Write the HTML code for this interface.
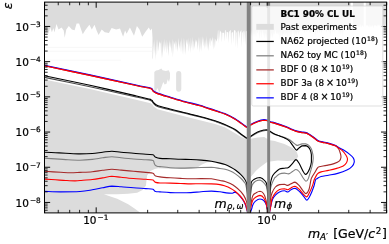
<!DOCTYPE html><html><head><meta charset="utf-8"><title>BC1 90% CL UL</title>
<style>html,body{margin:0;padding:0;background:#fff}svg{display:block;will-change:transform}text{font-family:"DejaVu Sans","Liberation Sans",sans-serif;fill:#000;stroke:#000;stroke-width:0.22px}.i{font-style:oblique}</style></head><body>
<svg width="389" height="244" viewBox="0 0 389 244">
<rect width="389" height="244" fill="#fff"/>
<defs><clipPath id="ax"><rect x="44.5" y="2.1" width="342.1" height="210.8"/></clipPath></defs>
<g clip-path="url(#ax)">
<path d="M38.0,215.0 L38.0,78.1 L44.5,79.5 L90.0,89.1 L135.0,99.4 L150.6,103.2 L152.3,104.5 L153.6,106.4 L157.5,109.3 L185.0,116.6 L200.0,120.3 L215.0,124.0 L224.8,127.2 L234.7,133.0 L241.2,137.0 L247.0,139.5 L250.7,138.7 L257.6,137.5 L264.2,137.0 L267.1,138.7 L269.9,140.3 L275.0,141.1 L276.2,141.5 L284.4,143.9 L292.6,148.0 L296.7,152.1 L298.3,156.2 L295.9,160.3 L287.7,161.1 L277.8,160.5 L270.1,161.4 L266.8,162.2 L260.0,167.2 L256.0,170.8 L252.9,174.4 L250.8,177.0 L248.8,183.0 L246.4,182.3 L244.2,178.5 L240.6,174.4 L235.4,170.0 L230.3,167.0 L225.1,164.6 L221.7,164.2 L211.4,162.0 L207.0,162.2 L201.0,165.0 L196.5,168.2 L190.8,168.8 L175.0,168.9 L164.3,168.4 L158.0,168.2 L154.8,168.9 L150.4,171.1 L147.1,175.5 L146.4,181.1 L146.0,185.5 L142.6,189.9 L137.1,192.8 L128.2,193.7 L117.2,194.3 L103.9,194.3 L110.5,196.6 L117.2,198.8 L128.2,204.3 L134.9,208.8 L139.3,212.1 L141.0,215.0Z" fill="#dcdcdc"/>
<path d="M38.0,0.0 L38.0,28.0 L44.5,28.5 L48.2,33.7 L50.3,27.5 L51.9,32.2 L53.4,28.1 L54.4,32.6 L56.5,24.0 L58.5,29.5 L61.6,27.5 L63.7,30.6 L64.7,37.8 L66.3,29.5 L68.8,26.0 L71.9,29.5 L74.6,30.2 L76.6,23.4 L79.1,23.4 L81.1,29.5 L82.8,34.3 L85.2,30.2 L89.4,24.8 L91.8,29.5 L94.5,24.8 L96.6,30.6 L98.6,35.1 L101.7,29.5 L104.8,32.2 L108.9,33.0 L111.6,28.1 L116.1,29.5 L120.0,28.5 L123.1,36.7 L125.1,30.6 L126.6,33.7 L129.9,27.5 L134.0,35.7 L136.9,26.0 L139.5,29.5 L142.2,36.7 L145.7,31.6 L148.8,27.5 L150.4,30.6 L151.9,28.5 L152.5,37.8 L152.5,59.4 L153.0,57.8 L153.6,41.6 L154.2,54.0 L154.8,39.1 L155.6,60.4 L156.3,39.1 L156.9,55.6 L157.8,39.2 L158.4,51.7 L159.4,40.9 L160.1,43.7 L160.6,42.0 L161.3,58.7 L161.8,39.7 L162.7,58.1 L163.5,40.9 L164.2,52.5 L164.8,38.5 L165.4,49.8 L166.1,39.4 L166.9,53.8 L167.5,41.3 L168.4,56.5 L169.2,40.1 L170.1,48.3 L170.7,41.8 L171.3,53.7 L172.2,38.4 L172.9,57.5 L173.8,40.8 L174.5,44.9 L175.2,40.4 L176.0,50.5 L176.7,40.9 L177.7,52.0 L178.5,37.7 L179.3,48.9 L180.3,40.6 L181.0,52.8 L181.8,37.3 L182.5,55.0 L183.1,37.4 L184.0,55.1 L184.6,38.6 L185.5,55.1 L186.3,39.1 L187.2,44.9 L188.1,37.9 L188.8,52.0 L189.7,40.6 L190.3,53.6 L190.9,37.6 L191.7,48.4 L192.3,36.6 L193.0,51.2 L193.8,40.3 L194.7,49.1 L195.5,39.1 L196.0,42.7 L196.9,39.8 L197.8,50.3 L198.5,36.6 L199.3,52.9 L199.8,36.9 L200.4,50.5 L201.0,36.0 L201.6,52.3 L202.3,36.0 L203.2,46.6 L203.8,36.9 L204.5,49.6 L205.0,39.2 L206.0,48.2 L206.8,36.0 L207.3,49.4 L208.0,38.9 L208.6,51.5 L209.5,37.6 L210.1,46.7 L210.7,37.5 L211.6,42.1 L212.5,36.4 L213.1,50.0 L214.0,37.3 L214.9,48.4 L215.5,38.4 L216.5,41.8 L217.4,38.3 L217.8,30.3 L218.2,43.7 L218.7,30.7 L219.1,29.6 L219.6,40.6 L220.0,30.4 L221.4,32.8 L221.9,42.8 L222.3,32.8 L224.1,32.8 L224.5,41.7 L225.0,30.3 L225.7,30.2 L226.2,39.7 L226.6,31.7 L228.3,32.4 L228.7,43.2 L229.2,31.8 L230.7,29.8 L231.1,45.6 L231.6,32.7 L233.1,32.1 L233.5,43.2 L234.0,30.1 L235.5,30.7 L235.9,47.4 L236.4,32.9 L237.3,30.9 L237.8,49.3 L238.2,32.0 L238.9,29.9 L239.3,39.0 L239.8,32.7 L241.3,30.0 L241.8,47.7 L242.2,32.9 L243.5,30.7 L244.0,44.1 L244.4,30.0 L244.9,32.9 L245.3,45.4 L245.8,31.3 L247.5,31.0 L247.9,48.3 L248.4,32.4 L249.1,30.4 L249.5,40.8 L250.0,30.3 L250.0,36.1 L250.9,29.5 L252.0,36.8 L252.9,31.3 L254.0,37.4 L255.1,31.0 L256.0,38.2 L256.7,30.8 L257.4,34.0 L258.4,29.7 L259.3,39.8 L260.3,30.3 L261.2,38.4 L262.2,29.4 L263.2,36.0 L263.9,32.1 L264.8,38.5 L265.9,32.6 L266.8,38.9 L267.7,31.0 L268.7,37.6 L269.6,30.9 L270.7,39.6 L271.8,32.8 L272.6,38.5 L273.7,32.4 L274.4,35.0 L275.3,29.3 L276.1,34.6 L277.1,32.1 L278.2,35.2 L279.2,31.6 L279.9,41.1 L281.0,29.9 L282.2,37.2 L283.1,33.0 L284.2,35.3 L285.0,31.1 L285.8,35.6 L286.6,31.9 L287.3,38.4 L288.1,29.1 L289.0,39.0 L289.9,29.3 L291.0,40.3 L292.2,29.4 L293.0,34.3 L294.0,30.1 L294.7,37.4 L295.8,32.3 L296.6,35.2 L297.7,31.3 L298.7,34.7 L299.4,31.8 L300.0,31.4 L301.1,28.9 L302.2,31.5 L303.3,27.2 L304.4,33.7 L305.2,28.7 L306.3,32.6 L307.0,28.6 L307.8,31.7 L308.5,27.2 L309.2,32.9 L310.0,29.3 L310.8,34.0 L311.6,28.0 L312.2,32.5 L312.8,29.2 L313.8,32.1 L314.6,29.8 L315.3,35.9 L316.2,28.5 L317.3,33.4 L318.2,29.1 L319.3,33.1 L320.4,29.1 L321.4,33.4 L322.2,27.2 L322.9,31.4 L323.9,27.8 L324.7,31.5 L325.7,29.6 L326.7,32.7 L327.5,27.9 L328.4,31.9 L329.2,27.8 L330.4,36.8 L331.3,27.7 L332.5,32.9 L333.3,27.0 L334.1,33.8 L335.0,27.6 L335.9,31.0 L336.7,27.3 L337.6,31.3 L338.2,27.9 L339.0,34.5 L339.9,29.3 L340.9,35.3 L342.0,28.2 L342.8,36.9 L343.5,29.2 L344.5,31.3 L345.0,28.6 L346.0,25.1 L347.0,26.0 L348.0,24.8 L349.0,28.3 L350.1,24.9 L351.2,27.9 L352.2,24.3 L352.9,26.0 L353.7,24.2 L354.8,27.5 L355.7,24.9 L356.7,27.2 L357.4,25.2 L358.4,27.3 L359.3,25.0 L360.0,28.1 L360.8,24.1 L361.5,28.1 L362.3,25.1 L363.4,27.2 L364.3,24.7 L365.3,28.2 L366.2,25.0 L366.9,26.0 L367.7,25.1 L368.5,27.5 L369.1,24.1 L369.9,27.9 L370.9,25.0 L371.7,27.3 L372.5,24.7 L373.2,28.6 L374.0,25.5 L375.1,25.6 L376.0,25.2 L377.1,27.1 L377.9,24.3 L379.1,26.2 L380.0,24.2 L380.9,28.8 L381.6,25.2 L382.5,28.6 L383.5,24.3 L384.6,27.2 L385.3,24.0 L386.2,27.1 L387.0,24.2 L387.8,26.6 L390.0,25.0 L390.0,0.0Z" fill="#dcdcdc"/>
<path d="M154.3,91.5 L154.3,72.0 L156.0,70.6 L158.5,70.0 L161.3,68.4 L162.6,70.2 L165.8,70.9 L168.7,70.3 L170.0,72.9 L170.0,78.0 L169.0,81.9 L167.7,79.3 L166.5,83.8 L164.6,84.4 L163.3,81.9 L161.3,87.6 L160.0,90.8 L159.4,93.0 L157.5,87.9 L155.6,91.7Z" fill="#e1e1e1"/>
<path d="M176.1,74 Q176.1,71 178.7,71 Q181.3,71 181.3,74 V88.7 Q181.3,91.7 178.7,91.7 Q176.1,91.7 176.1,88.7Z" fill="#e1e1e1"/>
<path d="M350.8,0h2.1v60h-2.1z" fill="#fff"/>
<path d="M363.7,0h2.1v60h-2.1z" fill="#fff"/>
<path d="M44.5,47.4 H152.5" stroke="#f2f2f2" stroke-width="0.6" fill="none"/>
<path d="M44.5,51.2 H152.5" stroke="#f2f2f2" stroke-width="0.6" fill="none"/>
<path d="M44.5,60.2 H121.0" stroke="#f5f5f5" stroke-width="0.6" fill="none"/>
<path d="M38.00,76.00 C39.08,76.23 38.00,76.00 44.50,77.40 C53.17,79.20 74.92,83.55 90.00,86.77 C105.08,89.99 124.90,94.45 135.00,96.72 C145.10,98.99 147.72,99.56 150.60,100.39 C152.30,101.22 151.80,101.14 152.30,101.67 C152.80,102.20 152.73,102.76 153.60,103.55 C154.47,104.34 154.77,105.37 157.50,106.40 C160.23,107.43 165.42,108.57 170.00,109.72 C174.58,110.87 180.00,112.11 185.00,113.32 C190.00,114.52 195.00,115.64 200.00,116.95 C205.00,118.26 210.87,119.81 215.00,121.15 C219.13,122.49 223.17,124.36 224.80,125.00" fill="none" stroke="#4a4a4a" stroke-width="1.10" stroke-linejoin="round" stroke-linecap="butt"/>
<path d="M215.00,121.15 C216.63,121.79 221.52,123.54 224.80,125.00 C228.08,126.46 231.97,128.25 234.70,129.90 C237.43,131.55 239.23,133.47 241.20,134.90 C243.17,136.33 245.27,137.83 246.50,138.50 C247.73,138.90 247.90,138.90 248.60,138.90 C249.30,138.62 249.20,137.83 250.70,136.80 C252.20,135.77 255.35,133.73 257.60,132.70 C259.85,131.67 262.62,131.00 264.20,130.60 C265.78,130.30 266.15,130.30 267.10,130.30 C268.05,130.48 268.58,131.00 269.90,131.70 C271.22,132.40 273.48,133.85 275.00,134.50 C276.52,135.15 277.67,135.18 279.00,135.60 C280.33,136.02 281.75,136.55 283.00,137.00 C284.25,137.45 285.28,137.75 286.50,138.30 C287.72,138.85 289.15,139.53 290.30,140.30 C291.45,141.07 292.55,142.22 293.40,142.90 C294.25,143.58 294.80,143.98 295.40,144.40 C296.00,144.82 296.40,145.32 297.00,145.40 C297.60,145.40 298.15,145.15 299.00,144.90 C299.85,144.65 300.98,144.07 302.10,143.90 C303.22,143.90 304.58,143.90 305.70,143.90 C306.82,144.15 307.85,144.55 308.80,145.40 C309.75,146.25 310.72,147.45 311.40,149.00 C312.08,150.55 312.60,153.12 312.90,154.70 C313.20,156.28 313.20,156.78 313.20,158.50 C313.10,160.22 312.67,163.12 312.30,165.00 C311.93,166.88 311.68,167.48 311.00,169.80 C310.32,172.12 309.03,176.98 308.20,178.90 C307.37,180.82 306.83,181.30 306.00,181.30 C305.17,181.15 304.35,179.63 303.20,178.00 C302.05,176.37 300.32,172.92 299.10,171.50 C297.88,170.08 296.98,169.50 295.90,169.50 C294.82,169.50 293.83,170.77 292.60,171.50 C291.37,172.23 289.87,173.63 288.50,173.90 C287.13,173.90 285.90,173.10 284.40,173.10 C282.90,173.10 280.93,173.25 279.50,173.90 C278.07,174.55 276.62,176.32 275.80,177.00 C274.98,177.68 275.28,177.00 274.60,178.00 C273.92,179.22 272.42,182.13 271.70,184.30 C270.98,186.47 270.75,185.88 270.30,191.00 C269.85,196.12 269.22,211.00 269.00,215.00" fill="none" stroke="#808080" stroke-width="1.12" stroke-linejoin="round" stroke-linecap="butt"/>
<path d="M268.30,215.00 C268.12,210.83 267.92,195.33 267.20,190.00 C266.48,184.67 265.20,184.67 264.00,183.00 C262.80,181.33 261.08,180.43 260.00,180.00 C258.92,180.00 258.33,180.13 257.50,180.40 C256.67,180.67 255.85,180.88 255.00,181.60 C254.15,182.32 253.08,183.13 252.40,184.70 C251.72,186.27 251.42,185.95 250.90,191.00 C250.38,196.05 249.57,211.00 249.30,215.00" fill="none" stroke="#808080" stroke-width="1.12" stroke-linejoin="round" stroke-linecap="butt"/>
<path d="M248.60,215.00 C248.33,211.17 247.48,197.05 247.00,192.00 C246.52,186.95 246.17,186.35 245.70,184.70 C245.23,183.05 245.05,183.22 244.20,182.10 C243.35,180.98 242.07,179.37 240.60,178.00 C239.13,176.63 237.12,175.05 235.40,173.90 C233.68,172.75 232.02,171.87 230.30,171.10 C228.58,170.33 226.82,169.73 225.10,169.30 C223.38,168.87 222.28,168.83 220.00,168.50 C217.72,168.17 214.55,167.47 211.40,167.30 C208.25,167.30 204.53,167.40 201.10,167.50 C197.67,167.60 194.22,167.80 190.80,167.90 C187.38,168.00 184.02,168.10 180.60,168.10 C177.18,168.07 173.73,167.95 170.30,167.70 C166.87,167.45 162.20,166.85 160.00,166.60 C157.80,166.35 157.90,166.43 157.10,166.20 C156.30,165.97 155.68,165.70 155.20,165.20 C154.72,164.70 154.57,164.00 154.20,163.20 C153.83,162.40 154.20,160.97 153.00,160.40 C151.60,159.83 149.05,160.03 145.80,159.80 C142.55,159.57 137.62,159.33 133.50,159.00 C129.38,158.67 124.70,158.18 121.10,157.80 C117.50,157.42 114.98,156.70 111.90,156.70 C108.82,156.70 105.87,157.35 102.60,157.80 C99.33,158.25 96.07,159.00 92.30,159.40 C88.53,159.80 84.43,160.17 80.00,160.20 C75.57,160.20 69.80,159.82 65.70,159.60 C61.60,159.38 58.92,159.13 55.40,158.90 C51.88,158.67 47.50,158.37 44.60,158.20 C41.70,158.03 39.10,157.95 38.00,157.90" fill="none" stroke="#808080" stroke-width="1.12" stroke-linejoin="round" stroke-linecap="butt"/>
<path d="M38.00,74.30 C39.08,74.53 38.00,74.30 44.50,75.70 C53.17,77.53 74.92,81.98 90.00,85.30 C105.08,88.62 124.90,93.25 135.00,95.60 C145.10,97.95 147.72,98.55 150.60,99.40 C152.30,100.25 151.80,100.17 152.30,100.70 C152.80,101.23 152.73,101.80 153.60,102.60 C154.47,103.40 154.77,104.43 157.50,105.50 C160.23,106.57 165.42,107.78 170.00,109.00 C174.58,110.22 180.00,111.55 185.00,112.80 C190.00,114.05 195.00,115.18 200.00,116.50 C205.00,117.82 210.87,119.38 215.00,120.70 C219.13,122.02 221.52,122.97 224.80,124.40 C228.08,125.83 231.97,127.65 234.70,129.30 C237.43,130.95 239.23,132.87 241.20,134.30 C243.17,135.73 245.27,137.23 246.50,137.90 C247.73,138.30 247.90,138.30 248.60,138.30 C249.30,138.02 249.20,137.23 250.70,136.20 C252.20,135.17 255.35,133.13 257.60,132.10 C259.85,131.07 262.62,130.40 264.20,130.00 C265.78,129.70 266.15,129.70 267.10,129.70 C268.05,129.92 268.58,130.53 269.90,131.30 C271.22,132.07 273.32,133.48 275.00,134.30 C276.68,135.12 278.32,135.55 280.00,136.20 C281.68,136.85 283.55,137.43 285.10,138.20 C286.65,138.97 288.10,139.68 289.30,140.80 C290.50,141.92 291.37,143.62 292.30,144.90 C293.23,146.18 294.20,147.63 294.90,148.50 C295.60,149.37 295.82,150.10 296.50,150.10 C297.18,150.02 298.07,148.70 299.00,148.00 C299.93,147.30 300.98,146.30 302.10,145.90 C303.22,145.60 304.67,145.60 305.70,145.60 C306.73,145.78 307.53,146.25 308.30,147.00 C309.07,147.75 309.78,148.82 310.30,150.10 C310.82,151.38 311.22,152.72 311.40,154.70 C311.40,156.68 311.40,159.75 311.40,162.00 C311.13,164.25 310.48,166.35 309.80,168.20 C309.12,170.05 308.03,172.07 307.30,173.10 C306.57,174.13 306.08,174.40 305.40,174.40 C304.72,174.13 304.25,173.35 303.20,171.50 C302.15,169.65 300.30,165.28 299.10,163.30 C297.90,161.32 297.08,159.60 296.00,159.60 C294.92,159.60 293.85,162.00 292.60,163.30 C291.35,164.60 289.87,166.58 288.50,167.40 C287.13,168.20 285.90,167.93 284.40,168.20 C282.90,168.47 281.13,168.20 279.50,169.00 C277.87,169.82 275.77,171.92 274.60,173.10 C273.43,174.28 273.05,175.00 272.50,176.10 C271.95,177.20 271.68,178.02 271.30,179.70 C270.92,181.38 270.58,180.32 270.20,186.20 C269.82,192.08 269.20,210.20 269.00,215.00" fill="none" stroke="#000000" stroke-width="1.12" stroke-linejoin="round" stroke-linecap="butt"/>
<path d="M268.30,215.00 C268.12,210.25 267.92,192.33 267.20,186.50 C266.48,180.67 265.20,181.50 264.00,180.00 C262.80,178.50 261.17,177.83 260.00,177.50 C258.83,177.50 258.02,177.67 257.00,178.00 C255.98,178.33 254.83,178.82 253.90,179.50 C252.97,180.18 251.92,180.67 251.40,182.10 C250.88,183.53 251.15,182.62 250.80,188.10 C250.45,193.58 249.55,210.52 249.30,215.00" fill="none" stroke="#000000" stroke-width="1.12" stroke-linejoin="round" stroke-linecap="butt"/>
<path d="M248.60,215.00 C248.42,211.33 247.78,198.05 247.50,193.00 C247.22,187.95 247.12,186.52 246.90,184.70 C246.68,182.88 246.65,183.13 246.20,182.10 C245.75,181.07 245.13,179.78 244.20,178.50 C243.27,177.22 242.07,175.82 240.60,174.40 C239.13,172.98 237.12,171.23 235.40,170.00 C233.68,168.77 232.02,167.90 230.30,167.00 C228.58,166.10 226.82,165.25 225.10,164.60 C223.38,163.95 222.28,163.65 220.00,163.10 C217.72,162.55 214.55,161.80 211.40,161.30 C208.25,160.80 204.53,160.40 201.10,160.10 C197.67,159.80 194.22,159.63 190.80,159.50 C187.38,159.37 184.02,159.42 180.60,159.30 C177.18,159.18 173.73,158.95 170.30,158.80 C166.87,158.65 162.45,158.67 160.00,158.40 C157.55,158.13 156.57,157.63 155.60,157.20 C154.63,156.77 154.63,156.22 154.20,155.80 C153.77,155.38 154.20,154.95 153.00,154.70 C151.60,154.45 149.05,154.55 145.80,154.30 C142.55,154.05 137.62,153.55 133.50,153.20 C129.38,152.85 124.70,152.53 121.10,152.20 C117.50,151.87 114.98,151.20 111.90,151.20 C108.82,151.20 105.87,151.82 102.60,152.20 C99.33,152.58 96.07,153.22 92.30,153.50 C88.53,153.78 84.43,153.90 80.00,153.90 C75.57,153.85 69.80,153.40 65.70,153.20 C61.60,153.00 58.92,152.87 55.40,152.70 C51.88,152.53 47.50,152.33 44.60,152.20 C41.70,152.07 39.10,151.95 38.00,151.90" fill="none" stroke="#000000" stroke-width="1.12" stroke-linejoin="round" stroke-linecap="butt"/>
<path d="M38.00,64.40 C39.08,64.63 38.00,64.40 44.50,65.80 C53.17,67.63 74.92,72.15 90.00,75.40 C105.08,78.65 124.90,83.12 135.00,85.30 C145.10,87.48 147.72,87.75 150.60,88.50 C152.30,89.25 151.80,89.28 152.30,89.80 C152.80,90.32 152.73,90.97 153.60,91.60 C154.47,92.23 154.77,92.62 157.50,93.60 C160.23,94.58 165.42,96.10 170.00,97.50 C174.58,98.90 180.00,100.62 185.00,102.00 C190.00,103.38 195.00,104.33 200.00,105.80 C205.00,107.27 210.87,109.42 215.00,110.80 C219.13,112.18 221.52,112.73 224.80,114.10 C228.08,115.47 231.97,117.45 234.70,119.00 C237.43,120.55 239.23,122.03 241.20,123.40 C243.17,124.77 245.27,126.55 246.50,127.20 C247.73,127.30 247.90,127.30 248.60,127.30 C249.30,126.95 249.20,126.02 250.70,125.10 C252.20,124.18 255.35,122.62 257.60,121.80 C259.85,120.98 262.62,120.38 264.20,120.20 C265.78,120.20 266.02,120.35 267.10,120.70 C268.18,121.05 269.38,121.85 270.70,122.30 C272.02,122.75 272.37,122.57 275.00,123.40 C277.63,124.23 283.67,126.23 286.50,127.30 C289.33,128.37 290.37,129.12 292.00,129.80 C293.63,130.48 294.80,130.97 296.30,131.40 C297.80,131.83 299.37,132.12 301.00,132.40 C302.63,132.68 304.85,132.78 306.10,133.10 C307.35,133.42 307.72,133.87 308.50,134.30 C309.28,134.73 309.72,134.97 310.80,135.70 C311.88,136.43 313.88,137.85 315.00,138.70 C316.12,139.55 316.67,140.28 317.50,140.80 C318.33,141.32 319.00,141.50 320.00,141.80 C321.00,142.10 322.25,142.33 323.50,142.60 C324.75,142.87 325.45,142.82 327.50,143.40 C329.55,143.98 333.95,145.20 335.80,146.10 C337.65,147.00 337.83,147.57 338.60,148.80 C339.37,150.03 340.00,152.12 340.40,153.50 C340.80,154.88 341.00,155.88 341.00,157.10 C340.85,158.32 340.67,159.72 339.50,160.80 C338.33,161.88 336.15,162.83 334.00,163.60 C331.85,164.37 329.07,164.88 326.60,165.40 C324.13,165.92 320.73,166.23 319.20,166.70 C317.67,167.17 318.17,167.18 317.40,168.20 C316.63,169.22 315.53,171.27 314.60,172.80 C313.67,174.33 312.42,176.20 311.80,177.40 C311.18,178.60 311.37,177.98 310.90,180.00 C310.43,182.02 309.82,187.23 309.00,189.50 C308.18,191.77 306.97,193.33 306.00,193.60 C305.03,193.60 304.35,192.47 303.20,191.10 C302.05,189.73 300.47,186.90 299.10,185.40 C297.73,183.90 296.35,182.37 295.00,182.10 C293.65,182.10 292.22,183.25 291.00,183.80 C289.78,184.35 288.80,185.32 287.70,185.40 C286.60,185.40 285.77,184.43 284.40,184.30 C283.03,184.30 281.00,184.30 279.50,184.60 C278.00,185.05 276.63,185.63 275.40,187.00 C274.17,188.37 272.92,190.75 272.10,192.80 C271.28,194.85 271.02,195.60 270.50,199.30 C269.98,203.00 269.25,212.38 269.00,215.00" fill="none" stroke="#a52a2a" stroke-width="1.12" stroke-linejoin="round" stroke-linecap="butt"/>
<path d="M268.30,215.00 C267.92,212.50 266.80,203.58 266.00,200.00 C265.20,196.42 264.50,194.95 263.50,193.50 C262.50,192.05 261.25,191.40 260.00,191.30 C258.75,191.30 257.18,192.22 256.00,192.90 C254.82,193.58 253.68,193.88 252.90,195.40 C252.12,196.92 251.90,198.73 251.30,202.00 C250.70,205.27 249.63,212.83 249.30,215.00" fill="none" stroke="#a52a2a" stroke-width="1.12" stroke-linejoin="round" stroke-linecap="butt"/>
<path d="M248.60,215.00 C248.37,213.28 247.60,207.10 247.20,204.70 C246.80,202.30 246.78,202.15 246.20,200.60 C245.62,199.05 244.63,196.95 243.70,195.40 C242.77,193.85 241.98,192.75 240.60,191.30 C239.22,189.85 237.12,187.98 235.40,186.70 C233.68,185.42 232.02,184.47 230.30,183.60 C228.58,182.73 226.82,182.02 225.10,181.50 C223.38,180.98 222.28,180.95 220.00,180.50 C217.72,180.05 214.55,179.12 211.40,178.80 C208.25,178.60 204.53,178.60 201.10,178.60 C197.67,178.60 194.22,178.80 190.80,178.80 C187.38,178.77 184.02,178.57 180.60,178.40 C177.18,178.23 173.73,178.05 170.30,177.80 C166.87,177.55 162.45,177.22 160.00,176.90 C157.55,176.58 156.57,176.28 155.60,175.90 C154.63,175.52 154.63,175.05 154.20,174.60 C153.77,174.15 154.20,173.57 153.00,173.20 C151.60,172.83 149.05,172.72 145.80,172.40 C142.55,172.08 137.62,171.68 133.50,171.30 C129.38,170.92 124.70,170.43 121.10,170.10 C117.50,169.77 114.98,169.30 111.90,169.30 C108.82,169.33 105.87,169.90 102.60,170.30 C99.33,170.70 96.07,171.35 92.30,171.70 C88.53,172.05 83.58,172.22 80.00,172.40 C76.42,172.58 74.03,172.80 70.80,172.80 C67.57,172.78 64.97,172.55 60.60,172.30 C56.23,172.05 48.37,171.52 44.60,171.30 C40.83,171.08 39.10,171.05 38.00,171.00" fill="none" stroke="#a52a2a" stroke-width="1.12" stroke-linejoin="round" stroke-linecap="butt"/>
<path d="M38.00,63.85 C39.08,64.08 38.00,63.85 44.50,65.25 C53.17,67.08 74.92,71.60 90.00,74.85 C105.08,78.10 124.90,82.57 135.00,84.75 C145.10,86.93 147.72,87.20 150.60,87.95 C152.30,88.70 151.80,88.73 152.30,89.25 C152.80,89.77 152.73,90.42 153.60,91.05 C154.47,91.68 154.77,92.07 157.50,93.05 C160.23,94.03 165.42,95.55 170.00,96.95 C174.58,98.35 180.00,100.07 185.00,101.45 C190.00,102.83 195.00,103.78 200.00,105.25 C205.00,106.72 210.87,108.87 215.00,110.25 C219.13,111.63 221.52,112.18 224.80,113.55 C228.08,114.92 231.97,116.90 234.70,118.45 C237.43,120.00 239.23,121.48 241.20,122.85 C243.17,124.22 245.27,126.00 246.50,126.65 C247.73,126.75 247.90,126.75 248.60,126.75 C249.30,126.40 249.20,125.47 250.70,124.55 C252.20,123.63 255.35,122.07 257.60,121.25 C259.85,120.43 262.62,119.83 264.20,119.65 C265.78,119.65 266.02,119.80 267.10,120.15 C268.18,120.50 269.38,121.30 270.70,121.75 C272.02,122.20 272.37,122.02 275.00,122.85 C277.63,123.68 283.67,125.68 286.50,126.75 C289.33,127.82 290.37,128.57 292.00,129.25 C293.63,129.93 294.80,130.42 296.30,130.85 C297.80,131.28 299.37,131.57 301.00,131.85 C302.63,132.13 304.85,132.23 306.10,132.55 C307.35,132.87 307.72,133.32 308.50,133.75 C309.28,134.18 309.72,134.42 310.80,135.15 C311.88,135.88 313.88,137.30 315.00,138.15 C316.12,139.00 316.67,139.73 317.50,140.25 C318.33,140.77 319.00,140.95 320.00,141.25 C321.00,141.55 322.25,141.78 323.50,142.05 C324.75,142.32 325.45,142.28 327.50,142.85 C329.55,143.42 334.18,144.82 335.80,145.45 C337.20,146.07 335.97,145.88 337.20,146.60 C338.43,147.32 341.12,148.50 343.20,149.80 C345.28,151.10 348.00,153.02 349.70,154.40 C351.40,155.78 352.63,156.87 353.40,158.10 C354.17,159.33 354.30,160.42 354.30,161.80 C354.08,163.18 353.33,165.02 352.10,166.40 C350.87,167.78 349.30,168.93 346.90,170.10 C344.50,171.27 340.77,172.55 337.70,173.40 C334.63,174.25 331.27,174.68 328.50,175.20 C325.73,175.72 322.95,175.97 321.10,176.50 C319.25,177.03 318.33,177.82 317.40,178.40 C316.47,178.98 316.08,178.70 315.50,180.00 C314.92,181.30 314.77,183.67 313.90,186.20 C313.03,188.73 311.47,192.87 310.30,195.20 C309.13,197.53 307.93,199.92 306.90,200.20 C305.87,200.20 305.25,198.27 304.10,196.90 C302.95,195.53 301.52,193.45 300.00,192.00 C298.48,190.55 296.50,188.57 295.00,188.20 C293.50,188.20 292.22,189.17 291.00,189.80 C289.78,190.43 288.80,191.83 287.70,192.00 C286.60,192.00 285.77,190.80 284.40,190.80 C283.03,190.80 281.00,191.27 279.50,192.00 C278.00,192.73 276.55,193.98 275.40,195.20 C274.25,196.42 273.37,197.50 272.60,199.30 C271.83,201.10 271.40,203.38 270.80,206.00 C270.20,208.62 269.30,213.50 269.00,215.00" fill="none" stroke="#0000ff" stroke-width="1.12" stroke-linejoin="round" stroke-linecap="butt"/>
<path d="M268.30,215.00 C268.08,213.67 267.67,209.30 267.00,207.00 C266.33,204.70 265.47,202.53 264.30,201.20 C263.13,199.87 261.47,199.02 260.00,199.00 C258.53,199.00 256.68,200.15 255.50,201.10 C254.32,202.05 253.55,203.38 252.90,204.70 C252.25,206.02 252.20,207.28 251.60,209.00 C251.00,210.72 249.68,214.00 249.30,215.00" fill="none" stroke="#0000ff" stroke-width="1.12" stroke-linejoin="round" stroke-linecap="butt"/>
<path d="M248.60,215.00 C248.27,214.00 247.17,210.80 246.60,209.00 C246.03,207.20 245.87,205.78 245.20,204.20 C244.53,202.62 243.55,200.93 242.60,199.50 C241.65,198.07 240.52,196.70 239.50,195.60 C238.48,194.50 237.35,193.48 236.50,192.90 C235.65,192.32 235.10,192.10 234.40,192.10 C233.70,192.15 233.67,193.07 232.30,193.20 C230.93,193.20 228.25,193.13 226.20,192.90 C224.15,192.67 222.47,192.10 220.00,191.80 C217.53,191.50 214.55,191.12 211.40,191.10 C208.25,191.10 204.53,191.45 201.10,191.70 C197.67,191.95 194.22,192.42 190.80,192.60 C187.38,192.78 184.02,192.80 180.60,192.80 C177.18,192.80 173.73,192.75 170.30,192.60 C166.87,192.45 162.45,192.08 160.00,191.90 C157.55,191.72 156.57,191.73 155.60,191.50 C154.63,191.27 154.63,190.88 154.20,190.50 C153.77,190.12 154.20,189.52 153.00,189.20 C151.60,188.88 149.05,188.83 145.80,188.60 C142.55,188.37 137.62,188.12 133.50,187.80 C129.38,187.48 124.70,186.98 121.10,186.70 C117.50,186.42 114.98,186.10 111.90,186.10 C108.82,186.28 105.87,187.18 102.60,187.80 C99.33,188.42 96.07,189.18 92.30,189.80 C88.53,190.42 85.28,191.15 80.00,191.50 C74.72,191.85 66.50,191.90 60.60,191.90 C54.70,191.88 48.37,191.52 44.60,191.40 C40.83,191.28 39.10,191.23 38.00,191.20" fill="none" stroke="#0000ff" stroke-width="1.12" stroke-linejoin="round" stroke-linecap="butt"/>
<path d="M38.00,64.40 C39.08,64.63 38.00,64.40 44.50,65.80 C53.17,67.63 74.92,72.15 90.00,75.40 C105.08,78.65 124.90,83.12 135.00,85.30 C145.10,87.48 147.72,87.75 150.60,88.50 C152.30,89.25 151.80,89.28 152.30,89.80 C152.80,90.32 152.73,90.97 153.60,91.60 C154.47,92.23 154.77,92.62 157.50,93.60 C160.23,94.58 165.42,96.10 170.00,97.50 C174.58,98.90 180.00,100.62 185.00,102.00 C190.00,103.38 195.00,104.33 200.00,105.80 C205.00,107.27 210.87,109.42 215.00,110.80 C219.13,112.18 221.52,112.73 224.80,114.10 C228.08,115.47 231.97,117.45 234.70,119.00 C237.43,120.55 239.23,122.03 241.20,123.40 C243.17,124.77 245.27,126.55 246.50,127.20 C247.73,127.30 247.90,127.30 248.60,127.30 C249.30,126.95 249.20,126.02 250.70,125.10 C252.20,124.18 255.35,122.62 257.60,121.80 C259.85,120.98 262.62,120.38 264.20,120.20 C265.78,120.20 266.02,120.35 267.10,120.70 C268.18,121.05 269.38,121.85 270.70,122.30 C272.02,122.75 272.37,122.57 275.00,123.40 C277.63,124.23 283.67,126.23 286.50,127.30 C289.33,128.37 290.37,129.12 292.00,129.80 C293.63,130.48 294.80,130.97 296.30,131.40 C297.80,131.83 299.37,132.12 301.00,132.40 C302.63,132.68 304.85,132.78 306.10,133.10 C307.35,133.42 307.72,133.87 308.50,134.30 C309.28,134.73 309.72,134.97 310.80,135.70 C311.88,136.43 313.88,137.85 315.00,138.70 C316.12,139.55 316.67,140.28 317.50,140.80 C318.33,141.32 319.00,141.50 320.00,141.80 C321.00,142.10 322.25,142.33 323.50,142.60 C324.75,142.87 325.45,142.83 327.50,143.40 C329.55,143.97 334.10,145.32 335.80,146.00 C337.50,146.68 336.62,146.72 337.70,147.50 C338.78,148.28 340.92,149.40 342.30,150.70 C343.68,152.00 345.13,153.92 346.00,155.30 C346.87,156.68 347.42,157.77 347.50,159.00 C347.50,160.23 347.22,161.53 346.50,162.70 C345.78,163.87 344.98,165.02 343.20,166.00 C341.42,166.98 338.25,167.87 335.80,168.60 C333.35,169.33 330.95,169.85 328.50,170.40 C326.05,170.95 322.90,171.35 321.10,171.90 C319.30,172.45 318.63,172.83 317.70,173.70 C316.77,174.57 316.10,176.05 315.50,177.10 C314.90,178.15 314.58,178.62 314.10,180.00 C313.62,181.38 313.45,183.13 312.60,185.40 C311.75,187.67 310.02,191.68 309.00,193.60 C307.98,195.52 307.47,196.82 306.50,196.90 C305.53,196.90 304.43,195.38 303.20,194.10 C301.97,192.82 300.47,190.52 299.10,189.20 C297.73,187.88 296.35,186.42 295.00,186.20 C293.65,186.20 292.22,187.30 291.00,187.90 C289.78,188.50 288.80,189.67 287.70,189.80 C286.60,189.80 285.77,188.75 284.40,188.70 C283.03,188.70 281.00,188.82 279.50,189.50 C278.00,190.18 276.63,191.30 275.40,192.80 C274.17,194.30 272.83,196.47 272.10,198.50 C271.37,200.53 271.52,202.25 271.00,205.00 C270.48,207.75 269.33,213.33 269.00,215.00" fill="none" stroke="#ff0000" stroke-width="1.12" stroke-linejoin="round" stroke-linecap="butt"/>
<path d="M268.30,215.00 C268.00,213.33 267.25,207.83 266.50,205.00 C265.75,202.17 264.88,199.60 263.80,198.00 C262.72,196.40 261.30,195.57 260.00,195.40 C258.70,195.40 257.18,196.23 256.00,197.00 C254.82,197.77 253.67,198.72 252.90,200.00 C252.13,201.28 252.00,202.20 251.40,204.70 C250.80,207.20 249.65,213.28 249.30,215.00" fill="none" stroke="#ff0000" stroke-width="1.12" stroke-linejoin="round" stroke-linecap="butt"/>
<path d="M248.60,215.00 C248.30,214.00 247.28,210.72 246.80,209.00 C246.32,207.28 246.22,206.10 245.70,204.70 C245.18,203.30 244.55,201.97 243.70,200.60 C242.85,199.23 241.98,198.02 240.60,196.50 C239.22,194.98 237.12,192.88 235.40,191.50 C233.68,190.12 232.02,189.12 230.30,188.20 C228.58,187.28 226.82,186.60 225.10,186.00 C223.38,185.40 222.28,184.95 220.00,184.60 C217.72,184.25 214.55,184.05 211.40,183.90 C208.25,183.75 204.53,183.70 201.10,183.70 C197.67,183.70 194.22,183.90 190.80,183.90 C187.38,183.87 184.02,183.63 180.60,183.50 C177.18,183.37 173.73,183.18 170.30,183.10 C166.87,183.02 162.45,183.10 160.00,183.00 C157.55,182.88 156.57,182.68 155.60,182.40 C154.63,182.12 154.63,181.70 154.20,181.30 C153.77,180.90 154.20,180.33 153.00,180.00 C151.60,179.67 149.05,179.55 145.80,179.30 C142.55,179.05 137.62,178.83 133.50,178.50 C129.38,178.17 124.70,177.67 121.10,177.30 C117.50,176.93 114.98,176.30 111.90,176.30 C108.82,176.40 105.87,177.37 102.60,177.90 C99.33,178.43 96.07,179.07 92.30,179.50 C88.53,179.93 82.88,180.27 80.00,180.50 C77.12,180.73 77.38,180.90 75.00,180.90 C72.62,180.90 68.97,180.68 65.70,180.50 C62.43,180.32 58.92,180.03 55.40,179.80 C51.88,179.57 47.50,179.27 44.60,179.10 C41.70,178.93 39.10,178.85 38.00,178.80" fill="none" stroke="#ff0000" stroke-width="1.12" stroke-linejoin="round" stroke-linecap="butt"/>
<rect x="246.75" y="2.1" width="4.00" height="210.8" fill="#828282"/>
<rect x="267.20" y="2.1" width="2.90" height="210.8" fill="#828282"/>
</g>
<text x="214.4" y="207.7" font-size="12.5"><tspan class="i">m</tspan><tspan dy="1.6" dx="0.3" font-size="8.4" class="i">ρ</tspan><tspan font-size="8.4">,</tspan><tspan dx="1.5" font-size="8.4" class="i">ω</tspan></text><text x="274.0" y="207.6" font-size="12.5"><tspan class="i">m</tspan><tspan dy="1.6" dx="0.3" font-size="8.75" class="i">ϕ</tspan></text>
<g><path d="M44.70,212.95 v-3.10 M44.70,2.15 v3.10" stroke="#000" stroke-width="0.85"/><path d="M58.24,212.95 v-3.10 M58.24,2.15 v3.10" stroke="#000" stroke-width="0.85"/><path d="M69.69,212.95 v-3.10 M69.69,2.15 v3.10" stroke="#000" stroke-width="0.85"/><path d="M79.60,212.95 v-3.10 M79.60,2.15 v3.10" stroke="#000" stroke-width="0.85"/><path d="M88.35,212.95 v-3.10 M88.35,2.15 v3.10" stroke="#000" stroke-width="0.85"/><path d="M96.18,212.95 v-5.60 M96.18,2.15 v5.60" stroke="#000" stroke-width="0.95"/><path d="M147.65,212.95 v-3.10 M147.65,2.15 v3.10" stroke="#000" stroke-width="0.85"/><path d="M177.76,212.95 v-3.10 M177.76,2.15 v3.10" stroke="#000" stroke-width="0.85"/><path d="M199.13,212.95 v-3.10 M199.13,2.15 v3.10" stroke="#000" stroke-width="0.85"/><path d="M215.70,212.95 v-3.10 M215.70,2.15 v3.10" stroke="#000" stroke-width="0.85"/><path d="M229.24,212.95 v-3.10 M229.24,2.15 v3.10" stroke="#000" stroke-width="0.85"/><path d="M240.69,212.95 v-3.10 M240.69,2.15 v3.10" stroke="#000" stroke-width="0.85"/><path d="M250.60,212.95 v-3.10 M250.60,2.15 v3.10" stroke="#000" stroke-width="0.85"/><path d="M259.35,212.95 v-3.10 M259.35,2.15 v3.10" stroke="#000" stroke-width="0.85"/><path d="M267.18,212.95 v-5.60 M267.18,2.15 v5.60" stroke="#000" stroke-width="0.95"/><path d="M318.65,212.95 v-3.10 M318.65,2.15 v3.10" stroke="#000" stroke-width="0.85"/><path d="M348.76,212.95 v-3.10 M348.76,2.15 v3.10" stroke="#000" stroke-width="0.85"/><path d="M370.13,212.95 v-3.10 M370.13,2.15 v3.10" stroke="#000" stroke-width="0.85"/><path d="M386.70,212.95 v-3.10 M386.70,2.15 v3.10" stroke="#000" stroke-width="0.85"/><path d="M44.55,210.26 h3.10 M386.60,210.26 h-3.10" stroke="#000" stroke-width="0.85"/><path d="M44.55,207.90 h3.10 M386.60,207.90 h-3.10" stroke="#000" stroke-width="0.85"/><path d="M44.55,205.86 h3.10 M386.60,205.86 h-3.10" stroke="#000" stroke-width="0.85"/><path d="M44.55,204.06 h3.10 M386.60,204.06 h-3.10" stroke="#000" stroke-width="0.85"/><path d="M44.55,202.45 h5.60 M386.60,202.45 h-5.60" stroke="#000" stroke-width="0.95"/><path d="M44.55,191.85 h3.10 M386.60,191.85 h-3.10" stroke="#000" stroke-width="0.85"/><path d="M44.55,185.66 h3.10 M386.60,185.66 h-3.10" stroke="#000" stroke-width="0.85"/><path d="M44.55,181.26 h3.10 M386.60,181.26 h-3.10" stroke="#000" stroke-width="0.85"/><path d="M44.55,177.85 h3.10 M386.60,177.85 h-3.10" stroke="#000" stroke-width="0.85"/><path d="M44.55,175.06 h3.10 M386.60,175.06 h-3.10" stroke="#000" stroke-width="0.85"/><path d="M44.55,172.70 h3.10 M386.60,172.70 h-3.10" stroke="#000" stroke-width="0.85"/><path d="M44.55,170.66 h3.10 M386.60,170.66 h-3.10" stroke="#000" stroke-width="0.85"/><path d="M44.55,168.86 h3.10 M386.60,168.86 h-3.10" stroke="#000" stroke-width="0.85"/><path d="M44.55,167.25 h5.60 M386.60,167.25 h-5.60" stroke="#000" stroke-width="0.95"/><path d="M44.55,156.65 h3.10 M386.60,156.65 h-3.10" stroke="#000" stroke-width="0.85"/><path d="M44.55,150.46 h3.10 M386.60,150.46 h-3.10" stroke="#000" stroke-width="0.85"/><path d="M44.55,146.06 h3.10 M386.60,146.06 h-3.10" stroke="#000" stroke-width="0.85"/><path d="M44.55,142.65 h3.10 M386.60,142.65 h-3.10" stroke="#000" stroke-width="0.85"/><path d="M44.55,139.86 h3.10 M386.60,139.86 h-3.10" stroke="#000" stroke-width="0.85"/><path d="M44.55,137.50 h3.10 M386.60,137.50 h-3.10" stroke="#000" stroke-width="0.85"/><path d="M44.55,135.46 h3.10 M386.60,135.46 h-3.10" stroke="#000" stroke-width="0.85"/><path d="M44.55,133.66 h3.10 M386.60,133.66 h-3.10" stroke="#000" stroke-width="0.85"/><path d="M44.55,132.05 h5.60 M386.60,132.05 h-5.60" stroke="#000" stroke-width="0.95"/><path d="M44.55,121.45 h3.10 M386.60,121.45 h-3.10" stroke="#000" stroke-width="0.85"/><path d="M44.55,115.26 h3.10 M386.60,115.26 h-3.10" stroke="#000" stroke-width="0.85"/><path d="M44.55,110.86 h3.10 M386.60,110.86 h-3.10" stroke="#000" stroke-width="0.85"/><path d="M44.55,107.45 h3.10 M386.60,107.45 h-3.10" stroke="#000" stroke-width="0.85"/><path d="M44.55,104.66 h3.10 M386.60,104.66 h-3.10" stroke="#000" stroke-width="0.85"/><path d="M44.55,102.30 h3.10 M386.60,102.30 h-3.10" stroke="#000" stroke-width="0.85"/><path d="M44.55,100.26 h3.10 M386.60,100.26 h-3.10" stroke="#000" stroke-width="0.85"/><path d="M44.55,98.46 h3.10 M386.60,98.46 h-3.10" stroke="#000" stroke-width="0.85"/><path d="M44.55,96.85 h5.60 M386.60,96.85 h-5.60" stroke="#000" stroke-width="0.95"/><path d="M44.55,86.25 h3.10 M386.60,86.25 h-3.10" stroke="#000" stroke-width="0.85"/><path d="M44.55,80.06 h3.10 M386.60,80.06 h-3.10" stroke="#000" stroke-width="0.85"/><path d="M44.55,75.66 h3.10 M386.60,75.66 h-3.10" stroke="#000" stroke-width="0.85"/><path d="M44.55,72.25 h3.10 M386.60,72.25 h-3.10" stroke="#000" stroke-width="0.85"/><path d="M44.55,69.46 h3.10 M386.60,69.46 h-3.10" stroke="#000" stroke-width="0.85"/><path d="M44.55,67.10 h3.10 M386.60,67.10 h-3.10" stroke="#000" stroke-width="0.85"/><path d="M44.55,65.06 h3.10 M386.60,65.06 h-3.10" stroke="#000" stroke-width="0.85"/><path d="M44.55,63.26 h3.10 M386.60,63.26 h-3.10" stroke="#000" stroke-width="0.85"/><path d="M44.55,61.65 h5.60 M386.60,61.65 h-5.60" stroke="#000" stroke-width="0.95"/><path d="M44.55,51.05 h3.10 M386.60,51.05 h-3.10" stroke="#000" stroke-width="0.85"/><path d="M44.55,44.86 h3.10 M386.60,44.86 h-3.10" stroke="#000" stroke-width="0.85"/><path d="M44.55,40.46 h3.10 M386.60,40.46 h-3.10" stroke="#000" stroke-width="0.85"/><path d="M44.55,37.05 h3.10 M386.60,37.05 h-3.10" stroke="#000" stroke-width="0.85"/><path d="M44.55,34.26 h3.10 M386.60,34.26 h-3.10" stroke="#000" stroke-width="0.85"/><path d="M44.55,31.90 h3.10 M386.60,31.90 h-3.10" stroke="#000" stroke-width="0.85"/><path d="M44.55,29.86 h3.10 M386.60,29.86 h-3.10" stroke="#000" stroke-width="0.85"/><path d="M44.55,28.06 h3.10 M386.60,28.06 h-3.10" stroke="#000" stroke-width="0.85"/><path d="M44.55,26.45 h5.60 M386.60,26.45 h-5.60" stroke="#000" stroke-width="0.95"/><path d="M44.55,15.85 h3.10 M386.60,15.85 h-3.10" stroke="#000" stroke-width="0.85"/><path d="M44.55,9.66 h3.10 M386.60,9.66 h-3.10" stroke="#000" stroke-width="0.85"/><path d="M44.55,5.26 h3.10 M386.60,5.26 h-3.10" stroke="#000" stroke-width="0.85"/></g>
<rect x="44.5" y="2.1" width="342.1" height="210.8" fill="none" stroke="#000" stroke-width="1.0"/>
<text x="15.6" y="206.65" font-size="10.50">10<tspan dy="-3.9" dx="1.0" font-size="7.35">−8</tspan></text>
<text x="15.6" y="171.45" font-size="10.50">10<tspan dy="-3.9" dx="1.0" font-size="7.35">−7</tspan></text>
<text x="15.6" y="136.25" font-size="10.50">10<tspan dy="-3.9" dx="1.0" font-size="7.35">−6</tspan></text>
<text x="15.6" y="101.05" font-size="10.50">10<tspan dy="-3.9" dx="1.0" font-size="7.35">−5</tspan></text>
<text x="15.6" y="65.85" font-size="10.50">10<tspan dy="-3.9" dx="1.0" font-size="7.35">−4</tspan></text>
<text x="15.6" y="30.65" font-size="10.50">10<tspan dy="-3.9" dx="1.0" font-size="7.35">−3</tspan></text>
<text x="83.2" y="223.9" font-size="10.50">10<tspan dy="-3.9" dx="1.0" font-size="7.35">−1</tspan></text>
<text x="257.3" y="223.9" font-size="10.50">10<tspan dy="-3.9" dx="1.0" font-size="7.35">0</tspan></text>
<text transform="translate(12.0,2.6) rotate(-90)" text-anchor="end" font-size="12.5" class="i">ε</text><text x="386.8" y="238.2" text-anchor="end" font-size="12.5"><tspan class="i">m</tspan><tspan dy="2.0" font-size="8.75" class="i">A′</tspan><tspan dy="-2.0" dx="1.2"> [GeV/</tspan><tspan class="i">c</tspan><tspan dy="-4.6" dx="0.6" font-size="8.75">2</tspan><tspan dy="4.6" dx="0.6">]</tspan></text>
<rect x="251.8" y="6.0" width="131.0" height="100.0" rx="1.6" fill="#fff" fill-opacity="0.8" stroke="#ccc" stroke-opacity="0.8" stroke-width="0.8"/><text x="317.6" y="17.2" text-anchor="middle" font-size="8.8" font-weight="bold">BC1 90% CL UL</text><rect x="256.3" y="23.9" width="17.5" height="5.9" fill="#dcdcdc"/><text x="280.6" y="29.8" font-size="8.8">Past experiments</text><path d="M256.3,41.45h17.5" stroke="#000000" stroke-width="1.25"/><text x="280.6" y="43.9" font-size="8.8">NA62 projected (<tspan dx="0.4">10</tspan><tspan dy="-3.3" dx="0.5" font-size="6.1">18</tspan><tspan dy="3.3">)</tspan></text><path d="M256.3,55.8h17.5" stroke="#808080" stroke-width="1.25"/><text x="280.6" y="58.0" font-size="8.8">NA62 toy MC (<tspan dx="0.4">10</tspan><tspan dy="-3.3" dx="0.5" font-size="6.1">18</tspan><tspan dy="3.3">)</tspan></text><path d="M256.3,69.9h17.5" stroke="#a52a2a" stroke-width="1.25"/><text x="280.6" y="72.1" font-size="8.8">BDF 0 (8<tspan font-size="9.6" dx="1.8">×</tspan><tspan dx="1.7">10</tspan><tspan dy="-3.3" dx="0.5" font-size="6.1">19</tspan><tspan dy="3.3">)</tspan></text><path d="M256.3,83.75h17.5" stroke="#ff0000" stroke-width="1.25"/><text x="280.6" y="86.2" font-size="8.8">BDF 3a (8<tspan font-size="9.6" dx="1.8">×</tspan><tspan dx="1.7">10</tspan><tspan dy="-3.3" dx="0.5" font-size="6.1">19</tspan><tspan dy="3.3">)</tspan></text><path d="M256.3,97.85h17.5" stroke="#0000ff" stroke-width="1.25"/><text x="280.6" y="100.3" font-size="8.8">BDF 4 (8<tspan font-size="9.6" dx="1.8">×</tspan><tspan dx="1.7">10</tspan><tspan dy="-3.3" dx="0.5" font-size="6.1">19</tspan><tspan dy="3.3">)</tspan></text>
</svg></body></html>
